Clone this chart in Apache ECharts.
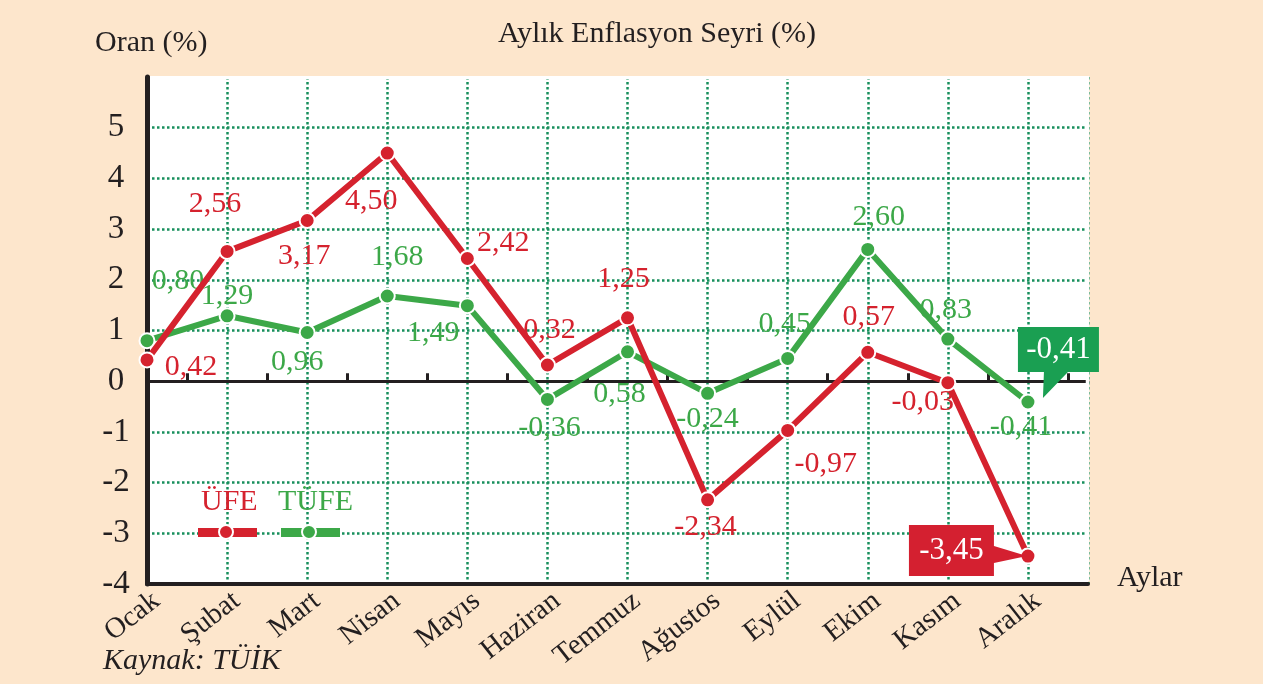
<!DOCTYPE html>
<html>
<head>
<meta charset="utf-8">
<script src="https://cdn.jsdelivr.net/npm/echarts@6/dist/echarts.min.js"></script>
<style>
html,body{margin:0;padding:0;background:#fde6cc;}
#c{width:1263px;height:684px;}
</style>
</head>
<body>
<div id="c"></div>
<script>
const months = ['Ocak','Şubat','Mart','Nisan','Mayıs','Haziran','Temmuz','Ağustos','Eylül','Ekim','Kasım','Aralık'];
const ufe = [0.42, 2.56, 3.17, 4.50, 2.42, 0.32, 1.25, -2.34, -0.97, 0.57, -0.03, -3.45];
const tufe = [0.80, 1.29, 0.96, 1.68, 1.49, -0.36, 0.58, -0.24, 0.45, 2.60, 0.83, -0.41];
const yTicks = [-4, -3, -2, -1, 0, 1, 2, 3, 4, 5];

const RED = '#d5222e', GREEN = '#3ca848', GRIDC = '#178f5c', TXT = '#231f20';
const SERIF = '"Liberation Serif","DejaVu Serif",serif';
const fmt = v => v.toFixed(2).replace('.', ',');

// label placement (pixel offsets from point centre)
const ufeOff = [[44,7],[-12,-47],[-3,36],[-16,48],[36,-15],[2,-35],[-4,-39],[-2,27],[38,34],[1,-35],[-25,19],null];
const tufeOff = [[31,-60],[0,-20],[-10,30],[10,-39],[-34,27],[2,29],[-8,42],[0,26],[-3,-34],[11,-32],[-2,-29],[-7,25]];

function build(vals, offs, color) {
  return vals.map((v, i) => ({
    value: [i, v],
    label: offs[i] ? {show: true, position: 'inside', offset: offs[i], formatter: fmt(v), color: color, fontSize: 30, fontFamily: SERIF}
                   : {show: false}
  }));
}

const chart = echarts.init(document.getElementById('c'));
chart.setOption({
  backgroundColor: '#fde6cc',
  animation: false,
  grid: {left: 147, right: 175, top: 77, bottom: 100, show: true, backgroundColor: '#ffffff', borderWidth: 0},
  title: {text: 'Aylık Enflasyon Seyri (%)', left: 652, top: 14, textAlign: 'center',
          textStyle: {fontFamily: SERIF, fontSize: 30, fontWeight: 'normal', color: TXT}},
  xAxis: [{
    type: 'value', min: 0, max: 11.75, interval: 1,
    axisLine: {onZero: false, lineStyle: {color: TXT, width: 4}},
    axisTick: {show: false},
    axisLabel: {rotate: 38, margin: 21, padding: [0, -12, 0, 0], fontFamily: SERIF, fontSize: 29, color: TXT,
                formatter: v => Number.isInteger(v) && months[v] ? months[v] : ''},
    splitLine: {show: true, lineStyle: {color: GRIDC, type: 'dotted', width: 2.5}}
  }, {
    type: 'value', min: 0, max: 11.75, interval: 1, position: 'bottom',
    axisLine: {onZero: true, lineStyle: {color: TXT, width: 3}},
    axisTick: {show: false, inside: true},
    minorTick: {show: true, splitNumber: 2, length: 8, lineStyle: {color: TXT, width: 3}},
    axisLabel: {show: false},
    splitLine: {show: false}
  }],
  yAxis: {
    type: 'value', min: -4, max: 6, interval: 1,
    axisLine: {show: true, onZero: false, lineStyle: {color: TXT, width: 5}},
    axisTick: {show: false},
    axisLabel: {margin: 31, align: 'center', fontFamily: SERIF, fontSize: 33, color: TXT,
                formatter: v => yTicks.includes(v) ? String(v) : ''},
    splitLine: {show: true, lineStyle: {color: GRIDC, type: 'dotted', width: 2.5}}
  },
  series: [{
    name: 'ÜFE', type: 'line', xAxisIndex: 0, data: build(ufe, ufeOff, RED),
    lineStyle: {color: RED, width: 6}, itemStyle: {color: RED, borderColor: '#fff', borderWidth: 2},
    symbol: 'circle', symbolSize: 15, z: 3,
    markPoint: {
      symbol: 'path://M0,0 L85,0 L85,21 L118,31 L85,38 L85,51 L0,51 Z',
      symbolSize: [118, 51], symbolOffset: [-60, -5.5], symbolKeepAspect: false,
      itemStyle: {color: '#d42030'},
      label: {show: true, position: 'inside', offset: [-16.5, 0], color: '#fff', fontSize: 31, fontFamily: SERIF},
      data: [{coord: [11, ufe[11]], value: fmt(ufe[11])}]
    }
  }, {
    name: 'TÜFE', type: 'line', xAxisIndex: 0, data: build(tufe, tufeOff, GREEN),
    lineStyle: {color: GREEN, width: 6}, itemStyle: {color: GREEN, borderColor: '#fff', borderWidth: 2},
    symbol: 'circle', symbolSize: 15, z: 2,
    markPoint: {
      symbol: 'path://M0,0 L81,0 L81,45 L50,45 L25,71 L26,45 L0,45 Z',
      symbolSize: [81, 71], symbolOffset: [30.5, -39.5], symbolKeepAspect: false,
      itemStyle: {color: '#1a9f52'},
      label: {show: true, position: 'inside', offset: [0, -13], color: '#fff', fontSize: 31, fontFamily: SERIF},
      data: [{coord: [11, tufe[11]], value: fmt(tufe[11])}]
    }
  }],
  graphic: [
    // hide outer gridline edges (reference has none at top/right)
    {type: 'line', z: 1, shape: {x1: 150, y1: 77.5, x2: 1087, y2: 77.5}, style: {stroke: '#ffffff', lineWidth: 3}},
    {type: 'line', z: 1, shape: {x1: 1087.5, y1: 76, x2: 1087.5, y2: 581}, style: {stroke: '#ffffff', lineWidth: 3.5}},
    {type: 'text', left: 95, top: 28, style: {text: 'Oran (%)', font: '30px ' + SERIF, fill: TXT}},
    {type: 'text', left: 1117, top: 563, style: {text: 'Aylar', font: '30px ' + SERIF, fill: TXT}},
    {type: 'text', left: 103, top: 646, style: {text: 'Kaynak: TÜİK', font: 'italic 30px ' + SERIF, fill: TXT}},
    {type: 'text', left: 201, top: 487, z: 10, style: {text: 'ÜFE', font: '30px ' + SERIF, fill: RED}},
    {type: 'text', left: 278, top: 487, z: 10, style: {text: 'TÜFE', font: '30px ' + SERIF, fill: GREEN}},
    {type: 'rect', z: 10, shape: {x: 198, y: 528, width: 59, height: 9}, style: {fill: RED}},
    {type: 'circle', z: 11, shape: {cx: 226, cy: 532, r: 7}, style: {fill: RED, stroke: '#fff', lineWidth: 2}},
    {type: 'rect', z: 10, shape: {x: 281, y: 528, width: 59, height: 9}, style: {fill: GREEN}},
    {type: 'circle', z: 11, shape: {cx: 309, cy: 532, r: 7}, style: {fill: GREEN, stroke: '#fff', lineWidth: 2}}
  ]
});
</script>
</body>
</html>
